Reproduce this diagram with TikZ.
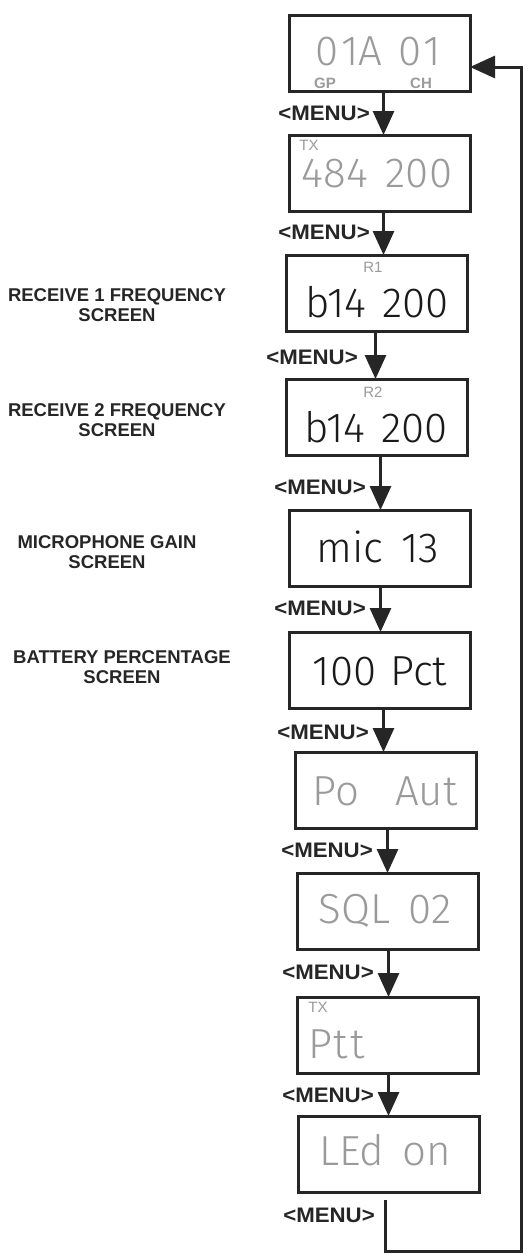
\documentclass[tikz,border=0pt]{standalone}
\usepackage{fontspec}
\setmainfont{Liberation Sans}
\newfontfamily\lcd{Fira Sans Light}
\newfontfamily\menufont{Liberation Sans}[FakeStretch=1.06]
\usetikzlibrary{arrows.meta}
\definecolor{lcdgrey}{HTML}{9A9A9A}
\definecolor{lcddark}{HTML}{1A1A1A}
\definecolor{frame}{HTML}{262626}
\begin{document}
\begin{tikzpicture}[x=1pt,y=-1pt,
  screen/.style={draw=frame, line width=3pt, minimum width=181pt, minimum height=76pt, inner sep=0pt, outer sep=0pt},
  lcdtext/.style={font=\lcd\fontsize{42}{42}\selectfont, inner sep=0pt, anchor=base},
  greytxt/.style={lcdtext, text=lcdgrey},
  darktxt/.style={lcdtext, text=lcddark},
  tag/.style={font=\fontsize{15}{15}\selectfont, text=lcdgrey, inner sep=0pt},
  boldtag/.style={font=\bfseries\fontsize{15}{15}\selectfont, text=lcdgrey, inner sep=0pt},
  menulbl/.style={font=\menufont\bfseries\fontsize{21}{21}\selectfont, text=frame, anchor=east, inner sep=0pt},
  sidelbl/.style={font=\bfseries\fontsize{18.5}{20}\selectfont, align=center, text=frame, inner sep=0pt},
  flow/.style={draw=frame, line width=3pt, -{Triangle[width=21pt,length=24pt]}},
  back/.style={draw=frame, line width=3pt, line join=miter},
]
\useasboundingbox (0,0) rectangle (529,1256);
\fill[white] (0,0) rectangle (529,1256);

% screens (outer edges of the 3pt frame: +-92 x, +-41 y)
\node[screen] (b1) at (379.5,53) {};
\node[screen] (b2) at (379.5,173) {};
\node[screen] (b3) at (376.5,293) {};
\node[screen] (b4) at (376.5,417) {};
\node[screen] (b5) at (379.5,548) {};
\node[screen] (b6) at (379.5,670) {};
\node[screen] (b7) at (385.5,790) {};
\node[screen] (b8) at (387.5,911) {};
\node[screen] (b9) at (387.5,1035) {};
\node[screen] (b10) at (388.5,1154) {};

% display contents
\node[greytxt] (t1) at (378,65) {0\hspace{3pt}1A\hspace{16pt}0\hspace{2pt}1};
\node[boldtag] (gp) at (325,83) {GP};
\node[boldtag] (ch) at (421,83) {CH};
\node[greytxt] (t2) at (377,187) {484\hspace{18pt}200};
\node[tag] (tx1) at (309,145.5) {TX};
\node[darktxt] (t3) at (377,317) {b14\hspace{16pt}200};
\node[tag] (r1) at (373,267) {R1};
\node[darktxt] (t4) at (376,442) {b14\hspace{16pt}200};
\node[tag] (r2) at (373,392) {R2};
\node[darktxt] (t5) at (378,562) {mic\hspace{18pt}13};
\node[darktxt] (t6) at (380,685) {100\hspace{14pt}Pct};
\node[greytxt] (t7) at (385,805) {Po\hspace{36pt}Aut};
\node[greytxt] (t8) at (385,923) {SQL\hspace{18pt}02};
\node[greytxt, anchor=base west] (t9) at (308,1058) {P\hspace{1pt}t\hspace{3pt}t};
\node[tag] (tx2) at (318,1007.5) {TX};
\node[greytxt] (t10) at (385,1165) {LEd\hspace{18pt}on};

% side labels
\node[sidelbl] (l3) at (117,305) {RECEIVE 1 FREQUENCY\\SCREEN};
\node[sidelbl] (l4) at (117,420) {RECEIVE 2 FREQUENCY\\SCREEN};
\node[sidelbl] (l5) at (107,552) {MICROPHONE GAIN\\SCREEN};
\node[sidelbl] (l6) at (122,667) {BATTERY PERCENTAGE\\SCREEN};

% shafts
\coordinate (s1) at (383.5,0);
\coordinate (s2) at (383.5,0);
\coordinate (s3) at (375.5,0);
\coordinate (s4) at (380.5,0);
\coordinate (s5) at (380.5,0);
\coordinate (s6) at (383.5,0);
\coordinate (s7) at (387.5,0);
\coordinate (s8) at (388.5,0);
\coordinate (s9) at (388.5,0);

\draw[flow] (b1.south -| s1) -- (b2.north -| s1);
\draw[flow] (b2.south -| s2) -- (b3.north -| s2);
\draw[flow] (b3.south -| s3) -- (b4.north -| s3);
\draw[flow] (b4.south -| s4) -- (b5.north -| s4);
\draw[flow] (b5.south -| s5) -- (b6.north -| s5);
\draw[flow] (b6.south -| s6) -- (b7.north -| s6);
\draw[flow] (b7.south -| s7) -- (b8.north -| s7);
\draw[flow] (b8.south -| s8) -- (b9.north -| s8);
\draw[flow] (b9.south -| s9) -- (b10.north -| s9);

\node[menulbl] (m1) at (370,113) {<MENU>};
\node[menulbl] (m2) at (370,232) {<MENU>};
\node[menulbl] (m3) at (358,357) {<MENU>};
\node[menulbl] (m4) at (366,487) {<MENU>};
\node[menulbl] (m5) at (366,608) {<MENU>};
\node[menulbl] (m6) at (369,732) {<MENU>};
\node[menulbl] (m7) at (373,850) {<MENU>};
\node[menulbl] (m8) at (374,972) {<MENU>};
\node[menulbl] (m9) at (374,1095) {<MENU>};
\node[menulbl] (m10) at (375,1215) {<MENU>};

% return loop
\coordinate (r0) at (385.5,1200);
\coordinate (r1c) at (385.5,1251.5);
\coordinate (r2c) at (521.5,1251.5);
\coordinate (r3c) at (521.5,67);
\draw[back, -{Triangle[width=22pt,length=25pt]}] (r0) -- (r1c) -- (r2c) -- (r3c) -- (r3c -| b1.east);
\end{tikzpicture}
\end{document}
